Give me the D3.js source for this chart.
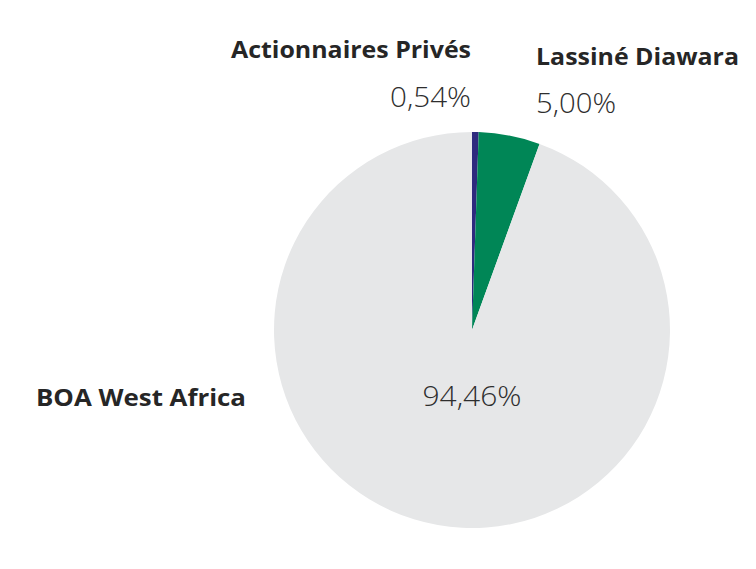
<!DOCTYPE html>
<html lang="fr">
<head>
<meta charset="UTF-8">
<title>Actionnariat</title>
<script src="https://d3js.org/d3.v7.min.js"></script>
<style>
  body { margin: 0; background: #fff; }
  svg { display: block; }
</style>
</head>
<body>
<div id="chart"></div>
<script>
// shareholders, clockwise from 12 o'clock
const names = ['Actionnaires Privés', 'Lassiné Diawara', 'BOA West Africa'];
const shares = [0.54, 5.00, 94.46];
const shareLabels = ['0,54%', '5,00%', '94,46%'];
const colors = ['#2e2a7e', '#008656', '#e6e7e8'];

const width = 756, height = 569;
const cx = 472, cy = 330, radius = 198;

const svg = d3.select('#chart')
    .append('svg')
    .attr('width', width)
    .attr('height', height);

const pie = d3.pie().sort(null).value(d => d);
const arc = d3.arc().innerRadius(0).outerRadius(radius);

const g = svg.append('g').attr('transform', `translate(${cx},${cy})`);

g.selectAll('path')
    .data(pie(shares))
    .enter()
    .append('path')
    .attr('d', arc)
    .attr('fill', (d, i) => colors[i]);

// label placement: name line and value line (widths stretch Open Sans to the wider original face)
const labelPos = [
    { x: 471, y1: 58, w1: 240, anchor: 'end', vx: 471, y2: 107, w2: 81, vanchor: 'end' },
    { x: 536, y1: 65, w1: 203, anchor: 'start', vx: 536, y2: 113, w2: 80, vanchor: 'start' },
    { x: 36, y1: 406, w1: 210, anchor: 'start', vx: 472, y2: 406, w2: 99, vanchor: 'middle' }
];

const font = "'Open Sans', 'DejaVu Sans', sans-serif";

names.forEach((n, i) => {
    const p = labelPos[i];
    svg.append('text')
        .attr('x', p.x)
        .attr('y', p.y1)
        .attr('text-anchor', p.anchor)
        .attr('font-family', font)
        .attr('font-weight', 700)
        .attr('font-size', '22.5px')
        .attr('fill', '#262626')
        .attr('textLength', p.w1)
        .attr('lengthAdjust', 'spacingAndGlyphs')
        .text(n);
    svg.append('text')
        .attr('x', p.vx)
        .attr('y', p.y2)
        .attr('text-anchor', p.vanchor)
        .attr('font-family', font)
        .attr('font-weight', 300)
        .attr('font-size', '27px')
        .attr('fill', '#2e2e2e')
        .attr('textLength', p.w2)
        .attr('lengthAdjust', 'spacingAndGlyphs')
        .text(shareLabels[i]);
});
</script>
</body>
</html>
